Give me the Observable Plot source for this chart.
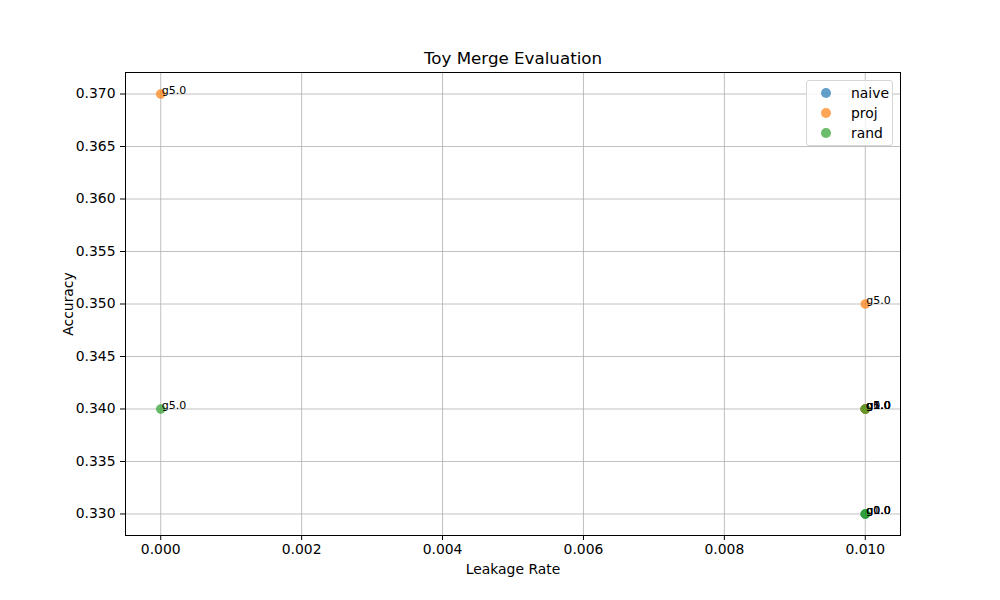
<!DOCTYPE html>
<html>
<head>
<meta charset="utf-8">
<script src="https://cdn.jsdelivr.net/npm/d3@7"></script>
<script src="https://cdn.jsdelivr.net/npm/@observablehq/plot@0.6"></script>
<style>
  html, body { margin: 0; padding: 0; background: #fff; }
  #wrap { position: relative; width: 1000px; height: 600px; font-family: "DejaVu Sans", sans-serif; }
  #legend { position: absolute; left: 806px; top: 80px; width: 87px; height: 66px;
    border: 1px solid #d6d6d6; border-radius: 3px; background: rgba(255,255,255,0.8);
    box-sizing: border-box; font-size: 13.9px; color: #000; }
  .item { position: absolute; left: 0; height: 20px; display: flex; align-items: center; }
  .sw { width: 10px; height: 10px; border-radius: 50%; margin-left: 14px; margin-right: 20px; }
</style>
</head>
<body>
<div id="wrap"><div id="chart"></div><div id="legend"></div></div>
<script>
const methods = ["naive", "proj", "rand"];
const methodColors = ["#1f77b4", "#ff7f0e", "#2ca02c"];

const naiveLeak  = [0.01, 0.01, 0.01];
const naiveAcc   = [0.33, 0.34, 0.34];
const naiveGamma = ["g0.0", "g1.0", "g5.0"];

const projLeak  = [0.01, 0.01, 0.0, 0.01];
const projAcc   = [0.34, 0.34, 0.37, 0.35];
const projGamma = ["g0.0", "g1.0", "g5.0", "g5.0"];

const randLeak  = [0.01, 0.01, 0.0, 0.01];
const randAcc   = [0.33, 0.34, 0.34, 0.33];
const randGamma = ["g0.0", "g1.0", "g5.0", "g1.0"];

const xTicks = [0.000, 0.002, 0.004, 0.006, 0.008, 0.010];
const yTicks = [0.330, 0.335, 0.340, 0.345, 0.350, 0.355, 0.360, 0.365, 0.370];

const series = [
  [naiveLeak, naiveAcc, naiveGamma],
  [projLeak, projAcc, projGamma],
  [randLeak, randAcc, randGamma]
];
const data = [];
series.forEach(([lx, ay, g], i) => {
  lx.forEach((v, j) => data.push({method: methods[i], leak: v, acc: ay[j], gamma: g[j]}));
});

const chart = Plot.plot({
  width: 1000,
  height: 600,
  marginLeft: 125,
  marginRight: 100,
  marginTop: 72,
  marginBottom: 65,
  style: {fontFamily: "DejaVu Sans, sans-serif", fontSize: "13.9px", color: "#000", background: "#fff"},
  x: {domain: [-0.0005, 0.0105]},
  y: {domain: [0.32795, 0.37205]},
  color: {domain: methods, range: methodColors},
  marks: [
    Plot.gridX(xTicks, {stroke: "#b0b0b0", strokeOpacity: 1, strokeWidth: 0.8}),
    Plot.gridY(yTicks, {stroke: "#b0b0b0", strokeOpacity: 1, strokeWidth: 0.8}),
    Plot.axisX(xTicks, {tickFormat: d3.format(".3f"), tickSize: 5, tickPadding: 4, fontSize: 13.9,
      label: "Leakage Rate", labelAnchor: "center", labelOffset: 38, labelArrow: "none"}),
    Plot.axisY(yTicks, {tickFormat: d3.format(".3f"), tickSize: 5, tickPadding: 5, fontSize: 13.9,
      label: "Accuracy", labelAnchor: "center", labelOffset: 62, labelArrow: "none"}),
    Plot.dot(data, {x: "leak", y: "acc", fill: "method", fillOpacity: 0.7, r: 4.5,
      stroke: "method", strokeOpacity: 0.7, strokeWidth: 0.5}),
    Plot.text(data, {x: "leak", y: "acc", text: "gamma", textAnchor: "start", lineAnchor: "bottom",
      dx: 1, dy: 0, fontSize: 11, fill: "#000"}),
    Plot.frame({stroke: "#000", strokeWidth: 1}),
    Plot.text(["Toy Merge Evaluation"], {frameAnchor: "top", dy: -14, fontSize: 16.7, fill: "#000", lineAnchor: "middle"})
  ]
});
document.getElementById("chart").appendChild(chart);

const legend = document.getElementById("legend");
methods.forEach((m, i) => {
  const item = document.createElement("div");
  item.className = "item";
  item.style.top = (2 + i * 20) + "px";
  const sw = document.createElement("span");
  sw.className = "sw";
  sw.style.background = methodColors[i];
  sw.style.opacity = 0.7;
  const lab = document.createElement("span");
  lab.textContent = m;
  item.appendChild(sw);
  item.appendChild(lab);
  legend.appendChild(item);
});
</script>
</body>
</html>
